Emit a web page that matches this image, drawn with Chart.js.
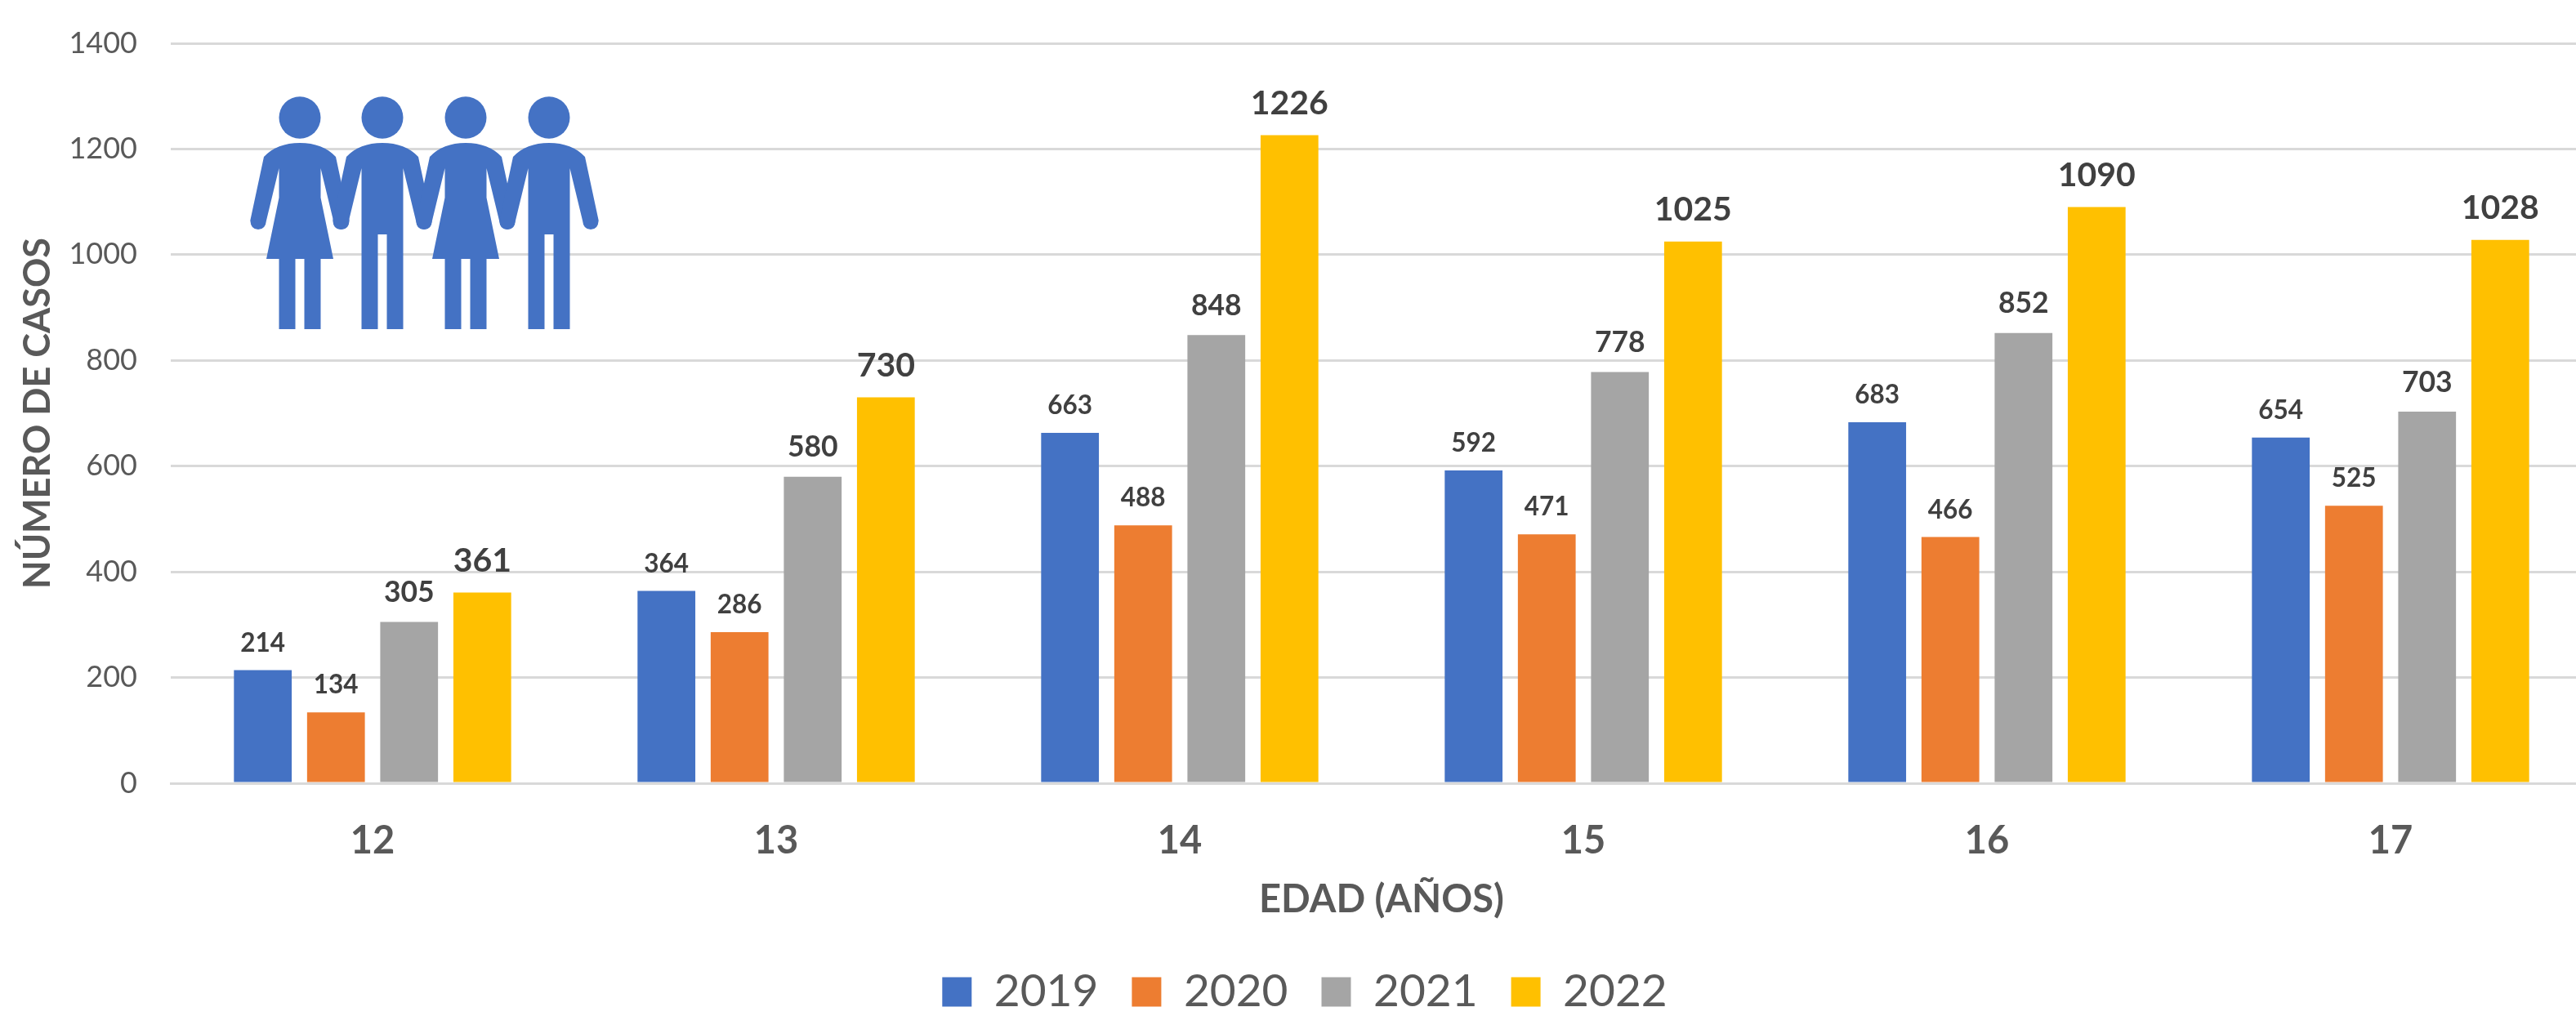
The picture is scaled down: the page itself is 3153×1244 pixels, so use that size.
<!DOCTYPE html>
<html lang="es">
<head>
<meta charset="utf-8">
<title>Casos por edad</title>
<script src="https://cdn.jsdelivr.net/npm/chart.js@4"></script>
<style>
  html, body { margin: 0; padding: 0; background: #fff; overflow: hidden; }
  #wrap { width: 3153px; height: 1244px; overflow: hidden; }
</style>
</head>
<body>
<!-- canvas runs 20px past the window: the last category is cut at the right edge in the original -->
<div id="wrap"><canvas id="chart" width="3173" height="1244"></canvas></div>
<script>
// Data
const edades = ['12', '13', '14', '15', '16', '17'];
const anios = ['2019', '2020', '2021', '2022'];
const casos2019 = [214, 364, 663, 592, 683, 654];
const casos2020 = [134, 286, 488, 471, 466, 525];
const casos2021 = [305, 580, 848, 778, 852, 703];
const casos2022 = [361, 730, 1226, 1025, 1090, 1028];
const colores = ['#4472C4', '#ED7D31', '#A5A5A5', '#FFC000'];

const FONT = 'Lato, Carlito, Calibri, sans-serif';

// Value labels above the bars, size grows with the series
const labelSizes = [31.5, 31.5, 35.5, 41];
const labelOffsets = [33, 33, 36, 39];

const valueLabels = {
  id: 'valueLabels',
  afterDatasetsDraw(chart) {
    const ctx = chart.ctx;
    ctx.save();
    ctx.fillStyle = '#404040';
    ctx.textAlign = 'center';
    ctx.textBaseline = 'middle';
    chart.data.datasets.forEach((ds, i) => {
      ctx.font = 'bold ' + labelSizes[i] + 'px ' + FONT;
      chart.getDatasetMeta(i).data.forEach((bar, j) => {
        ctx.fillText(ds.data[j], bar.x, bar.y - labelOffsets[i]);
      });
    });
    ctx.restore();
  }
};

// The four people pictogram in the top left corner
function personHalf(cx, s, woman) {
  const p = new Path2D();
  p.moveTo(cx - s, 175);
  p.lineTo(cx, 175);
  p.quadraticCurveTo(cx + s * 28, 175, cx + s * 44, 192);
  p.lineTo(cx + s * 60.7, 270);
  p.quadraticCurveTo(cx + s * 60, 281, cx + s * 51, 281);
  p.quadraticCurveTo(cx + s * 42, 281, cx + s * 41, 270);
  p.lineTo(cx + s * 25.5, 206);
  if (woman) {
    p.lineTo(cx + s * 25.5, 242);
    p.lineTo(cx + s * 41, 317);
    p.lineTo(cx + s * 25.5, 317);
    p.lineTo(cx + s * 25.5, 403);
    p.lineTo(cx + s * 5.5, 403);
    p.lineTo(cx + s * 5.5, 317);
    p.lineTo(cx - s, 317);
  } else {
    p.lineTo(cx + s * 25.5, 403);
    p.lineTo(cx + s * 5.5, 403);
    p.lineTo(cx + s * 5.5, 287);
    p.lineTo(cx - s, 287);
  }
  p.closePath();
  return p;
}

const people = {
  id: 'people',
  beforeDatasetsDraw(chart) {
    const ctx = chart.ctx;
    ctx.save();
    ctx.fillStyle = '#4472C4';
    [367, 468, 570, 672].forEach((cx, i) => {
      ctx.beginPath();
      ctx.ellipse(cx, 144, 25.5, 25.7, 0, 0, Math.PI * 2);
      ctx.fill();
      ctx.fill(personHalf(cx, 1, i % 2 === 0));
      ctx.fill(personHalf(cx, -1, i % 2 === 0));
    });
    ctx.restore();
  }
};

const seriesData = [casos2019, casos2020, casos2021, casos2022];

new Chart(document.getElementById('chart'), {
  type: 'bar',
  data: {
    labels: edades,
    datasets: anios.map((a, i) => ({
      label: a,
      data: seriesData[i],
      backgroundColor: colores[i],
      categoryPercentage: 0.725,
      barPercentage: 0.79
    }))
  },
  plugins: [people, valueLabels],
  options: {
    responsive: false,
    animation: false,
    devicePixelRatio: 1,
    layout: { padding: { left: 21, right: 0, top: 53, bottom: -8 } },
    plugins: {
      tooltip: { enabled: false },
      legend: {
        position: 'bottom',
        labels: {
          boxWidth: 36,
          boxHeight: 36,
          padding: 41,
          color: '#595959',
          font: { family: FONT, size: 55 }
        }
      }
    },
    scales: {
      x: {
        afterFit(scale) { scale.height = 187; },
        grid: { display: false },
        border: { display: true, color: '#D9D9D9', width: 3 },
        ticks: {
          color: '#595959',
          padding: 35,
          font: { family: FONT, size: 47, weight: 'bold' }
        },
        title: {
          display: true,
          text: 'EDAD (AÑOS)',
          color: '#595959',
          padding: { top: 0, bottom: 16 },
          font: { family: FONT, size: 47, weight: 'bold' }
        }
      },
      y: {
        min: 0,
        max: 1400,
        afterFit(scale) { scale.width = 188; },
        // tick marks are invisible, they only keep the labels away from the plot
        grid: { color: '#D9D9D9', lineWidth: 3, tickLength: 41, tickColor: 'transparent' },
        border: { display: false },
        ticks: {
          stepSize: 200,
          color: '#595959',
          padding: 0,
          font: { family: FONT, size: 36 },
          callback: v => String(v)
        },
        title: {
          display: true,
          text: 'NÚMERO DE CASOS',
          color: '#595959',
          padding: { top: -2, bottom: 0 },
          font: { family: FONT, size: 45, weight: 'bold' }
        }
      }
    }
  }
});
</script>
</body>
</html>
